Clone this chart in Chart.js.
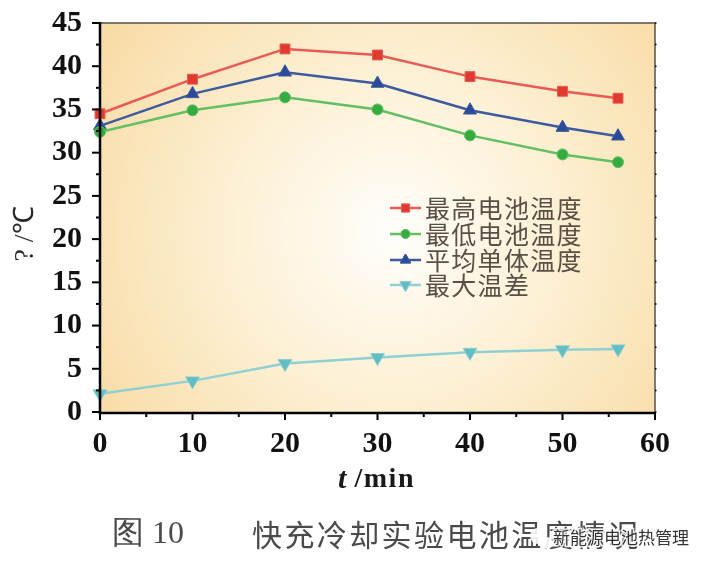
<!DOCTYPE html>
<html>
<head>
<meta charset="utf-8">
<script src="https://cdn.jsdelivr.net/npm/chart.js@4/dist/chart.umd.min.js"></script>
<style>
    html, body { margin: 0; padding: 0; background: #fff; }
    canvas { display: block; }
</style>
</head>
<body>
<canvas id="tempChart" width="708" height="570"></canvas>
<script>
var times = [0, 10, 20, 30, 40, 50, 56];
var maxTemp = [34.5, 38.5, 42.0, 41.3, 38.8, 37.1, 36.3];
var minTemp = [32.4, 34.9, 36.4, 35.0, 32.0, 29.8, 28.9];
var avgTemp = [33.1, 36.8, 39.3, 38.0, 34.9, 32.9, 31.9];
var maxDiff = [2.1, 3.6, 5.6, 6.3, 6.9, 7.2, 7.3];
var seriesNames = ['最高电池温度', '最低电池温度', '平均单体温度', '最大温差'];
var xTitle = ['t', ' /min'];
var yTitle = '? /℃';
var captionNo = '图 10';
var captionText = '快充冷却实验电池温度情况';
var watermark = '新能源电池热管理';

var serif = '"Liberation Serif", serif';
var cjk = '"Noto Sans CJK SC", sans-serif';

function toPoints(values) {
    return values.map(function (v, i) { return { x: times[i], y: v }; });
}

function makeSeries(label, values, line, fill, style, size) {
    return {
        label: label,
        data: toPoints(values),
        borderColor: line,
        backgroundColor: fill,
        pointBackgroundColor: fill,
        pointBorderColor: line,
        pointBorderWidth: 1,
        pointStyle: style.name,
        pointRotation: style.rotation,
        pointRadius: size,
        borderWidth: 2.5,
        tension: 0,
        clip: false
    };
}

// plot background, soft glow from the middle
var backgroundPlugin = {
    id: 'plotBackground',
    beforeDraw: function (chart) {
        var a = chart.chartArea, c = chart.ctx;
        var cx = (a.left + a.right) / 2 + 15, cy = (a.top + a.bottom) / 2 + 15;
        var g = c.createRadialGradient(cx, cy, 0, cx, cy, 345);
        g.addColorStop(0, '#fffefb');
        g.addColorStop(0.45, '#fdf1d6');
        g.addColorStop(1, '#f8dca6');
        c.save();
        c.fillStyle = g;
        c.fillRect(a.left, a.top, a.right - a.left, a.bottom - a.top);
        c.restore();
    }
};

// frame, minor ticks, legend and the texts around the chart
var decorPlugin = {
    id: 'decor',
    afterDatasetsDraw: function (chart) {
        var a = chart.chartArea, c = chart.ctx;
        var xs = chart.scales.x, ys = chart.scales.y;
        c.save();
        c.lineCap = 'butt';

        c.strokeStyle = '#55504a';
        c.lineWidth = 1.5;
        c.beginPath();
        c.moveTo(a.left, a.top); c.lineTo(a.right, a.top); c.lineTo(a.right, a.bottom);
        c.stroke();

        c.strokeStyle = '#000';
        c.lineWidth = 2.5;
        c.beginPath();
        c.moveTo(a.left, a.top - 1); c.lineTo(a.left, a.bottom + 1); c.lineTo(a.right, a.bottom + 1);
        c.stroke();

        c.lineWidth = 2;
        var v;
        for (v = 0; v <= 60; v += 5) {
            var px = xs.getPixelForValue(v);
            var len = v % 10 === 0 ? 8 : 5;
            c.beginPath(); c.moveTo(px, a.bottom); c.lineTo(px, a.bottom + len); c.stroke();
        }
        for (v = 0; v <= 45; v += 2.5) {
            var py = ys.getPixelForValue(v);
            var ylen = v % 5 === 0 ? 8 : 4;
            c.lineWidth = 2;
            c.beginPath(); c.moveTo(a.left, py); c.lineTo(a.left - ylen, py); c.stroke();
            // faint dots on the right edge
            c.lineWidth = 1.5;
            c.beginPath(); c.moveTo(a.right, py); c.lineTo(a.right + 1.5, py); c.stroke();
        }

        // legend, line with the marker on it
        var rows = [208, 234, 260, 285];
        chart.data.datasets.forEach(function (ds, i) {
            c.strokeStyle = ds.borderColor;
            c.lineWidth = 2.5;
            c.beginPath(); c.moveTo(390, rows[i]); c.lineTo(421, rows[i]); c.stroke();
            c.fillStyle = ds.backgroundColor;
            c.lineWidth = 1;
            Chart.helpers.drawPoint(c, { pointStyle: ds.pointStyle, rotation: ds.pointRotation, radius: ds.pointRadius * 0.8, borderWidth: 1 }, 405.5, rows[i]);
            c.fill();
            c.stroke();
            c.fillStyle = '#5b4f45';
            c.font = '25px ' + cjk;
            c.textAlign = 'left';
            c.textBaseline = 'middle';
            c.letterSpacing = '1.3px';
            c.fillText(seriesNames[i], 425, rows[i]);
            c.letterSpacing = '0px';
        });

        // x axis title
        c.fillStyle = '#1a1a1a';
        c.textBaseline = 'middle';
        c.textAlign = 'left';
        c.font = 'italic bold 30px ' + serif;
        c.fillText(xTitle[0], 338, 480);
        c.font = 'bold 28px ' + serif;
        c.letterSpacing = '1.5px';
        c.fillText(xTitle[1], 346, 480);
        c.letterSpacing = '0px';

        // y axis title
        c.save();
        c.translate(26, 234);
        c.rotate(-Math.PI / 2);
        c.textAlign = 'center';
        c.font = '28px ' + serif;
        c.fillStyle = '#2a2a2a';
        c.fillText(yTitle, 0, 0);
        c.restore();

        // caption
        c.fillStyle = '#4a4a4a';
        c.textAlign = 'left';
        c.font = '32px ' + serif;
        c.fillText(captionNo, 112, 535);
        c.font = '30px ' + cjk;
        c.letterSpacing = '2.4px';
        c.fillText(captionText, 252, 535);
        c.letterSpacing = '0px';

        // watermark over the caption
        c.fillStyle = 'rgba(255,255,255,0.9)';
        c.beginPath(); c.arc(538, 536, 8, 0, Math.PI * 2); c.fill();
        c.beginPath(); c.arc(547, 543, 6, 0, Math.PI * 2); c.fill();
        c.font = '17px ' + cjk;
        c.lineWidth = 3;
        c.strokeStyle = 'rgba(255,255,255,0.85)';
        c.strokeText(watermark, 553, 538);
        c.fillStyle = '#333';
        c.fillText(watermark, 553, 538);
        c.restore();
    }
};

new Chart(document.getElementById('tempChart').getContext('2d'), {
    type: 'line',
    data: {
        datasets: [
            makeSeries(seriesNames[0], maxTemp, '#ea5a55', '#e0392d', { name: 'rect', rotation: 0 }, 7),
            makeSeries(seriesNames[1], minTemp, '#62bf62', '#34ab3f', { name: 'circle', rotation: 0 }, 5.5),
            makeSeries(seriesNames[2], avgTemp, '#3d5a9e', '#2c4a9a', { name: 'triangle', rotation: 0 }, 7.5),
            makeSeries(seriesNames[3], maxDiff, '#8fd0d2', '#62bcc4', { name: 'triangle', rotation: 180 }, 8)
        ]
    },
    plugins: [backgroundPlugin, decorPlugin],
    options: {
        responsive: false,
        animation: false,
        devicePixelRatio: 1,
        layout: { padding: { top: 23, right: 53, left: 0, bottom: 0 } },
        plugins: { legend: { display: false }, tooltip: { enabled: false } },
        scales: {
            x: {
                type: 'linear',
                min: 0,
                max: 60,
                afterFit: function (scale) {
                    scale.height = 158;
                    scale.paddingLeft = 0;
                    scale.paddingRight = 0;
                },
                grid: { display: false, drawTicks: false },
                border: { display: false },
                ticks: {
                    stepSize: 10,
                    padding: 14,
                    maxRotation: 0,
                    color: '#111',
                    font: { family: serif, weight: 'bold', size: 30 }
                }
            },
            y: {
                min: 0,
                max: 45,
                afterFit: function (scale) {
                    scale.width = 100;
                    scale.paddingTop = 0;
                    scale.paddingBottom = 0;
                },
                grid: { display: false, drawTicks: false },
                border: { display: false },
                ticks: {
                    stepSize: 5,
                    padding: 18,
                    color: '#111',
                    font: { family: serif, weight: 'bold', size: 30 }
                }
            }
        }
    }
});
</script>
</body>
</html>
